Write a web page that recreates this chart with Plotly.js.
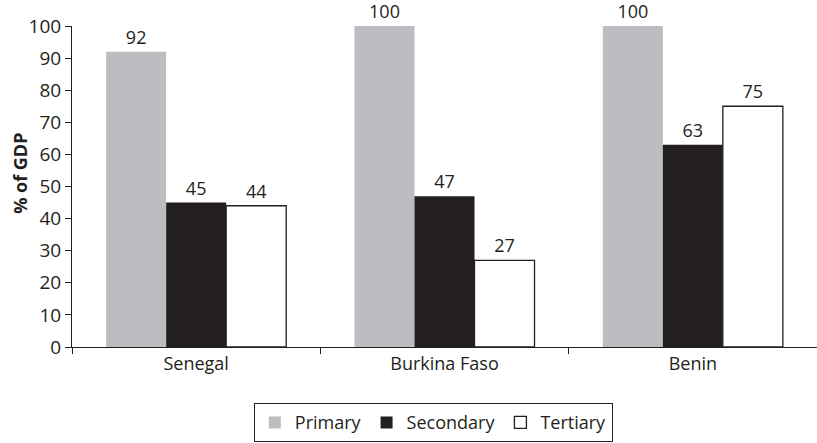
<!DOCTYPE html>
<html><head><meta charset="utf-8">
<script src="https://cdn.plot.ly/plotly-3.0.1.min.js"></script>
<style>html,body{margin:0;padding:0;background:#fff}</style>
</head><body><div id="chart" style="width:817px;height:443px"></div>
<script>
var countries = ["Senegal", "Burkina Faso", "Benin"];
var primary = [92, 100, 100];
var secondary = [45, 47, 63];
var tertiary = [44, 27, 75];
var yTicks = [0, 10, 20, 30, 40, 50, 60, 70, 80, 90, 100];
var yTitle = "% of GDP";

var FONT = "Open Sans";
var TXT = "#231f20";
var FS = 19;
function mk(name, vals, fill, line) {
  return {
    type: "bar", name: name, x: countries, y: vals,
    text: vals.map(String), textposition: "outside", cliponaxis: false,
    textfont: {family: FONT, size: 18, color: TXT},
    marker: {color: fill, line: {color: line, width: line === fill ? 0 : 1.3}},
    hoverinfo: "none"
  };
}
var data = [
  mk("Primary", primary, "#bcbdc0", "#bcbdc0"),
  mk("Secondary", secondary, "#231f20", "#231f20"),
  mk("Tertiary", tertiary, "#ffffff", "#231f20")
];
var layout = {
  width: 817, height: 443,
  margin: {l: 72, r: 0, t: 26, b: 96},
  paper_bgcolor: "#fff", plot_bgcolor: "#fff",
  font: {family: FONT, size: FS, color: TXT},
  barmode: "group", bargap: 0.275, bargroupgap: 0,
  showlegend: true,
  legend: {orientation: "h", x: 0.485, xanchor: "center", y: -0.175, yanchor: "top",
           bordercolor: "#231f20", borderwidth: 1, font: {family: FONT, size: 18, color: TXT},
           itemclick: false, tracegroupgap: 0, itemwidth: 30},
  xaxis: {showline: true, linecolor: "#231f20", linewidth: 1, ticks: "outside",
          tickson: "boundaries", ticklen: 6, tickcolor: "#231f20",
          tickfont: {family: FONT, size: 18, color: TXT}, showgrid: false, zeroline: false},
  yaxis: {range: [0, 100], tickvals: yTicks, ticks: "outside", ticklen: 6, tickcolor: "#231f20",
          showline: true, linecolor: "#231f20", linewidth: 1, showgrid: false, zeroline: false,
          tickfont: {family: FONT, size: FS, color: TXT}},
  annotations: [{text: "<b>" + yTitle + "</b>", textangle: -90, showarrow: false,
                 xref: "paper", yref: "paper", x: -0.07, y: 0.542,
                 xanchor: "center", yanchor: "middle",
                 font: {family: FONT, size: 18, color: TXT}}]
};
Plotly.newPlot("chart", data, layout, {staticPlot: true});
</script></body></html>
